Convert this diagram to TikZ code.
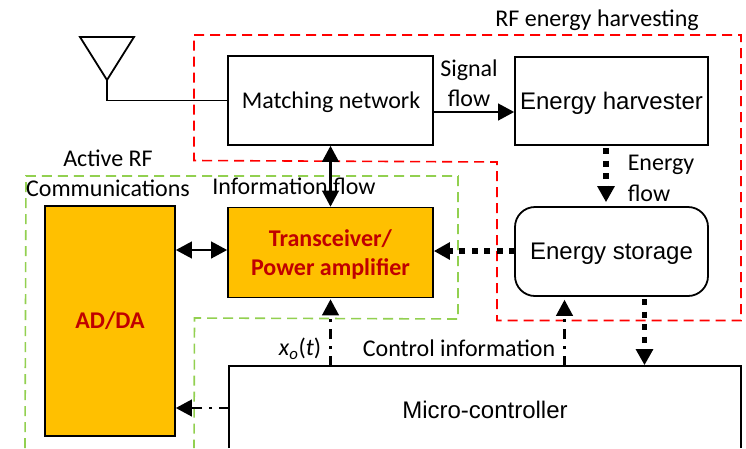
\documentclass[tikz,border=0pt]{standalone}
\usepackage{fontspec}
\setmainfont{Carlito}
\newfontfamily\arialf{Liberation Sans}
\usetikzlibrary{arrows.meta,calc}
\definecolor{boxorange}{RGB}{255,192,0}
\definecolor{boxred}{RGB}{192,0,0}
\definecolor{grn}{RGB}{146,208,80}
\newcommand{\dropped}[1]{\raisebox{-2pt}[\height][\depth]{#1}}
\tikzset{
 x=1pt,y=-1pt,
 block/.style={draw=black,line width=1.8pt,inner sep=0pt,outer sep=0pt,anchor=north west},
 hot/.style={block,fill=boxorange,text=boxred,font=\fontsize{24}{28.5}\selectfont\bfseries,align=center},
 lbl/.style={font=\fontsize{24}{29}\selectfont,inner sep=0pt,align=center},
 tip/.style={-{Triangle[length=16pt,width=16.5pt]},shorten >=0.8pt},
 tips/.style={{Triangle[length=16pt,width=16.5pt]}-{Triangle[length=16pt,width=16.5pt]},shorten >=0.8pt,shorten <=0.8pt},
 solidarrow/.style={line width=2.4pt},
 energy/.style={line width=5.5pt,dash pattern=on 6pt off 6.5pt},
 ctrl/.style={line width=2.5pt,dash pattern=on 10pt off 7pt on 3pt off 7pt},
 redbox/.style={draw=red,line width=1.6pt,dash pattern=on 10pt off 6pt},
 greenbox/.style={draw=grn,line width=1.6pt,dash pattern=on 10pt off 6pt},
}
\begin{document}
\begin{tikzpicture}
\useasboundingbox (0,0) rectangle (746,448);
\node[hot,minimum width=130pt,minimum height=230pt] (ad) at (45,206) {AD/DA};
\node[hot,minimum width=205pt,minimum height=90pt] (tr) at (228,207.5) {\dropped{Transceiver/}\\\dropped{Power amplifier}};
\node[block,minimum width=205pt,minimum height=89pt] (mn) at (228,56) {};
\node[lbl] (mnt) at (331,102.5) {Matching network};
\node[block,minimum width=193pt,minimum height=88pt,font=\fontsize{24}{29}\arialf] (eh) at (515,57) {\dropped{Energy harvester}};
\node[block,rounded corners=20pt,minimum width=193pt,minimum height=89pt,font=\fontsize{24}{29}\arialf] (es) at (515,207) {\dropped{Energy storage}};
\draw[line width=1.8pt] (229,448) -- (229,366) coordinate (mtl) -- (741,366) coordinate (mtr) -- (741,448);
\node[font=\fontsize{24}{29}\arialf,inner sep=0pt] (mc) at (485,410) {Micro-controller};
% antenna
\coordinate (a1) at (80,37); \coordinate (a2) at (134,37); \coordinate (a3) at (107,80);
\draw[line width=1.8pt,line join=miter] (a1) -- (a2) -- (a3) -- cycle;
\draw[line width=1.8pt] (a3) |- (mn.west);
% regions
\draw[redbox] (194,35) -- (741,35) -- (741,320.5) -- (497,320.5) -- (497,162) -- (194,160.5) -- cycle;
\draw[greenbox] (25,448) -- (26,176) -- (458,176) -- (458,319) -- (194.5,318) -- (194,448);
% connectors
\draw[solidarrow,tips] (mn.south) -- (tr.north);
\draw[solidarrow,tips] (ad.east |- 0,250) -- (tr.west |- 0,250);
\draw[solidarrow,tip] (mn.east |- 0,112) -- (eh.west |- 0,112);
\draw[energy,tip] (606,148) -- (606,203);
\draw[energy,tip] (es.west |- 0,251) -- (tr.east |- 0,251);
\draw[energy,tip] (644.5,299) -- (644.5,366);
\draw[ctrl,tip] (564.5,366) -- (564.5,299);
\draw[ctrl,tip] (330.5,366) -- (330.5,298.5);
\draw[ctrl,tip] (229,408) -- (ad.east |- 0,408);
% labels
\node[lbl] (l1) at (597,20) {RF energy harvesting};
\node[lbl] (l2) at (469,70) {Signal};
\node[lbl] (l3) at (469,98) {flow};
\node[lbl] (l4) at (661,165) {Energy};
\node[lbl] (l5) at (649,193) {flow};
\node[lbl] (l6) at (108,158) {Active RF};
\node[lbl] (l7) at (108,188) {Communications};
\node[lbl] (l8) at (294,186) {Information flow};
\node[lbl] (l9) at (459,348) {Control information};
\node[lbl] (l10) at (300,349) {\textit{x}\textsubscript{\textit{o}}(\textit{t})};
\end{tikzpicture}
\end{document}
